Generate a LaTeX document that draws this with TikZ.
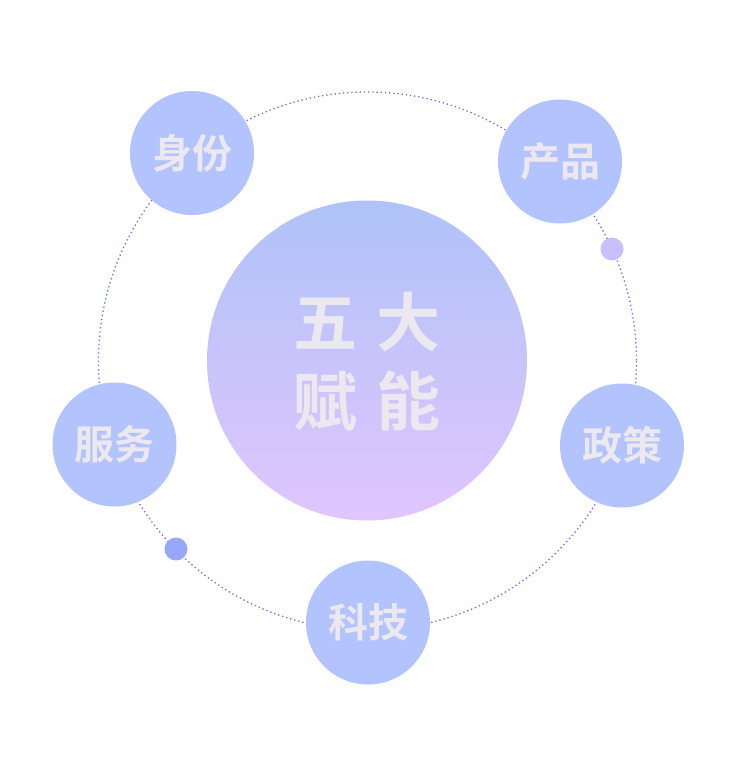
\documentclass[tikz,border=0pt]{standalone}
\usepackage{fontspec}
\newfontfamily\cjk{Noto Sans CJK SC}[BoldFont={Noto Sans CJK SC Bold}]
\definecolor{smallc}{HTML}{B3C3FD}
\definecolor{gtop}{HTML}{AFC3F8}
\definecolor{gbot}{HTML}{E1C5FE}
\definecolor{txtc}{HTML}{ECE8F0}
\definecolor{ringc}{HTML}{6E6EE6}
\definecolor{dotA}{HTML}{C8BFFB}
\definecolor{dotB}{HTML}{97A8FA}
\tikzset{
  sat/.style={circle, fill=smallc, minimum size=124pt, inner sep=0pt,
    text=txtc, font=\cjk\bfseries\fontsize{40}{44}\selectfont},
  ring/.style={draw=ringc, line width=1.3pt, dash pattern=on 1.3pt off 2.9pt},
  tiny/.style={circle, minimum size=23pt, inner sep=0pt}
}
\begin{document}
\begin{tikzpicture}[x=1pt,y=-1pt]
\useasboundingbox (0,0) rectangle (750,770);
\fill[white] (0,0) rectangle (750,770);
\coordinate (o) at (367.5,361);
\draw[ring] (o) circle[radius=269];
\shade[top color=gtop, bottom color=gbot] (367,360.5) circle[radius=160];
\node[text=txtc, font=\cjk\bfseries\fontsize{64}{79}\selectfont, align=center, inner sep=0pt] (main) at (367,362) {五\hspace{20pt}大\\赋\hspace{20pt}能};
\node[sat] (sf) at (192,153) {身份};
\node[sat] (cp) at (560,161.5) {产品};
\node[sat] (zc) at (622,445.5) {政策};
\node[sat] (kj) at (368,622.5) {科技};
\node[sat] (fw) at (114.5,444.5) {服务};
\node[tiny, fill=dotA] (d1) at (612,249) {};
\node[tiny, fill=dotB] (d2) at (176,549) {};
\end{tikzpicture}
\end{document}
